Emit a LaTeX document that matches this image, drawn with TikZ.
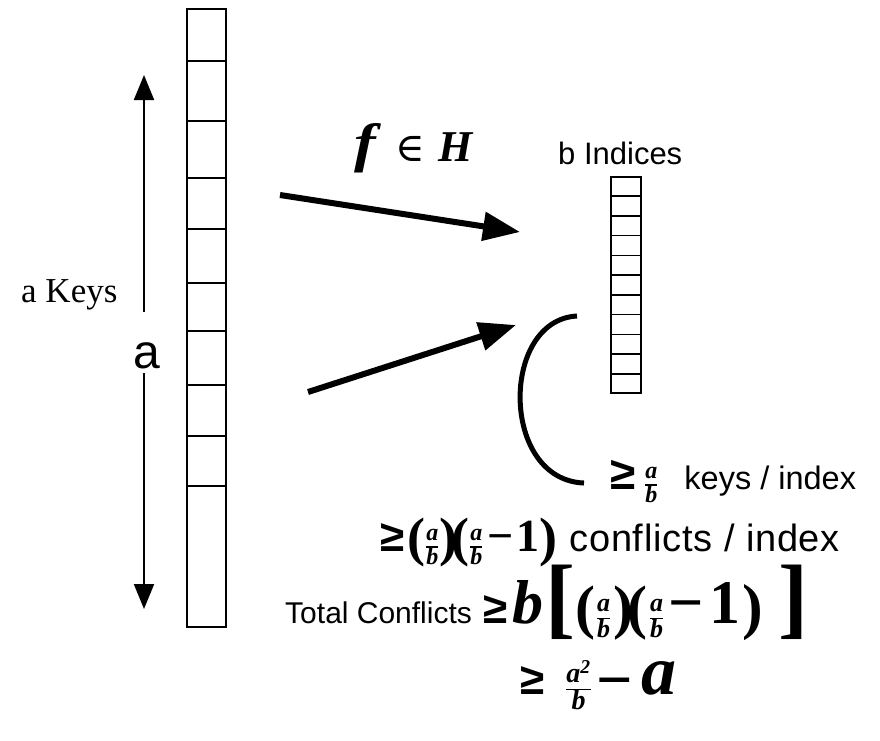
\documentclass[tikz,border=0pt]{standalone}
\usepackage{fontspec}
\setmainfont{Liberation Serif}
\newfontfamily\arial{Liberation Sans}
\newfontfamily\arialwide[LetterSpace=2]{Liberation Sans}
\newfontfamily\dvs{DejaVu Serif}
\usetikzlibrary{arrows.meta,calc}
\newcommand\bi[1]{{\bfseries\itshape #1}}
\newcommand\gesign[1][44]{{\fontsize{#1}{#1}\selectfont\arial\bfseries ≥}}
\newcommand\fr[3][24]{\ensuremath{\vcenter{\hbox{\fontsize{#1}{#1}\selectfont\bfseries\itshape
 \setlength\arrayrulewidth{1.3pt}\setlength\tabcolsep{0pt}\renewcommand\arraystretch{0.8}%
 \begin{tabular}{@{}c@{}}#2\\\hline #3\end{tabular}}}}}
\newcommand\bigp[2][50]{\raisebox{-4pt}{\fontsize{#1}{#1}\selectfont\bfseries #2}}
\newcommand\mn[1][44]{{\fontsize{#1}{#1}\selectfont\bfseries −}}
\newcommand\one[1][44]{{\fontsize{#1}{#1}\selectfont\bfseries 1}}
\tikzset{
 txt/.style={inner sep=0pt, anchor=base west},
 bigarrow/.style={line width=6pt, -{Triangle[length=37pt,width=28pt]}},
 dimarrow/.style={line width=2pt, -{Triangle[length=25pt,width=20pt]}},
 cellline/.style={line width=1.6pt},
}
\begin{document}
\begin{tikzpicture}[x=1pt,y=-1pt]
\useasboundingbox (0,0) rectangle (880,740);
% left column of keys
\node[draw, line width=1.6pt, minimum width=39pt, minimum height=618pt, inner sep=0pt] (keys) at (206.5,318) {};
\foreach \yy in {61,121,178,229,283,331,385,436,486}
  \draw[cellline] (keys.west |- 0,\yy) -- (keys.east |- 0,\yy);
% right column of indices
\node[draw, line width=1.4pt, minimum width=30pt, minimum height=216pt, inner sep=0pt] (idx) at (626,285) {};
\foreach \k in {1,...,10}
  \draw[line width=1.4pt] ($(idx.north west)!\k/11!(idx.south west)$) -- ($(idx.north east)!\k/11!(idx.south east)$);
% left dimension arrow
\node[txt] (alab) at (133,368) {\fontsize{48}{48}\selectfont\arial a};
\coordinate (dtop) at (144,75);
\coordinate (dbot) at (144,609);
\coordinate (dmidtop) at (144,312);
\coordinate (dmidbot) at (144,373);
\draw[dimarrow] (dmidtop) -- (dtop);
\draw[dimarrow] (dmidbot) -- (dbot);
\node[txt] (akeys) at (21,302) {\fontsize{35}{35}\selectfont a Keys};
% mapping arrows
\coordinate (m1s) at (280,195);
\coordinate (m1e) at (520,232);
\coordinate (m2s) at (308,392);
\coordinate (m2e) at (516,325);
\draw[bigarrow] (m1s) -- (m1e);
\draw[bigarrow] (m2s) -- (m2e);
\node[txt] (fh) at (354,161) {\fontsize{54}{54}\selectfont\scalebox{1.2}[1]{\bfseries\itshape f}\hspace{20pt}{\dvs\fontsize{40}{40}\selectfont ∈}\hspace{13pt}{\fontsize{44}{44}\selectfont\bi{H}}};
\node[txt] (bind) at (558,164) {\fontsize{31}{31}\selectfont\arial b Indices};
% brace arc
\coordinate (arcT) at (577,316);
\coordinate (arcB) at (584,483);
\draw[line width=5pt] (arcT) .. controls (500,320) and (500,480) .. (arcB);
% formulas
\node[txt] (row1) at (610,489) {\gesign[46]\hspace{10pt}\fr{a}{b}\hspace{27pt}{\fontsize{32.5}{32.5}\selectfont\arial keys / index}};
\node[txt] (row2) at (380,551) {\gesign\hspace{3pt}\bigp[54]{(}\hspace{1pt}\fr{a}{b}\hspace{1pt}\bigp[54]{)}\hspace{-6pt}\bigp[54]{(}\hspace{1pt}\fr{a}{b}\hspace{5pt}\mn[46]\hspace{3pt}\one[46]\bigp[54]{)}\hspace{12pt}{\fontsize{38}{38}\selectfont\arialwide conflicts / index}};
\node[txt] (row3) at (285,623) {{\fontsize{30}{30}\selectfont\arial Total Conflicts}\hspace{12pt}\gesign\hspace{4pt}{\fontsize{62}{62}\selectfont\bi{b}}\hspace{2pt}\bigp[90]{[}\bigp[60]{(}\hspace{2pt}\fr[26]{a}{b}\hspace{3pt}\bigp[60]{)}\hspace{-6pt}\bigp[60]{(}\hspace{3pt}\fr[26]{a}{b}\hspace{5pt}\mn[62]\hspace{6pt}\one[62]\hspace{2pt}\bigp[62]{)}\hspace{16pt}\bigp[90]{]}};
\node[txt] (row4) at (520,694) {\gesign\hspace{22pt}\raisebox{3pt}{\fr[28]{a\textsuperscript{\bfseries 2}}{b}}\hspace{6pt}\raisebox{-7pt}{\mn[64]}\hspace{8pt}{\fontsize{70}{70}\selectfont\bi{a}}};
\end{tikzpicture}
\end{document}
